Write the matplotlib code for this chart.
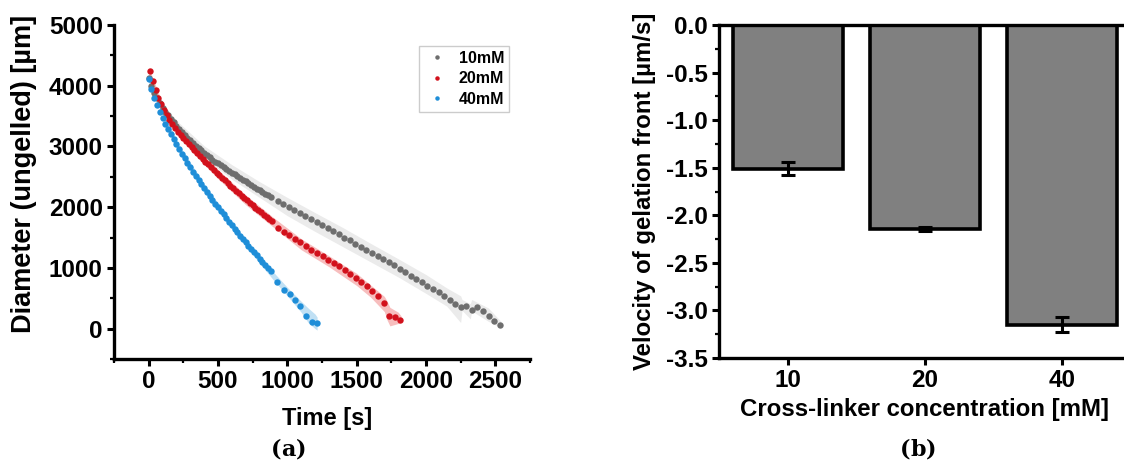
import matplotlib
matplotlib.use("Agg")
import matplotlib.pyplot as plt
from matplotlib.ticker import MultipleLocator

plt.rcParams['font.family'] = ['Liberation Sans', 'DejaVu Sans']
plt.rcParams['font.weight'] = 'bold'
plt.rcParams['axes.unicode_minus'] = False

# (a) diameter of ungelled core vs time, mean points + std band
t_10 = [0, 20, 40, 60, 80, 100, 120, 140, 160, 180, 200, 220, 240, 260, 280, 300, 320, 340, 360, 380,
        400, 420, 440, 460, 480, 500, 520, 540, 560, 580, 600, 620, 640, 660, 680, 700, 720, 740, 760, 780,
        800, 820, 840, 860, 880,
        931, 971, 1011, 1051, 1091, 1131, 1171, 1211, 1251, 1291, 1331, 1371, 1411, 1451, 1491, 1531,
        1571, 1611, 1651, 1691, 1731, 1771, 1811, 1851, 1891, 1931, 1971, 2011, 2051, 2091, 2131, 2171,
        2211, 2251, 2291, 2331, 2371, 2411, 2451, 2491, 2531]
d_10 = [4120, 3990, 3880, 3790, 3710, 3640, 3575, 3515, 3455, 3400, 3345, 3290, 3240, 3190, 3145, 3100,
        3055, 3015, 2975, 2935, 2895, 2855, 2820, 2785, 2750, 2720, 2690, 2660, 2630, 2600, 2570, 2540,
        2510, 2485, 2455, 2425, 2395, 2365, 2335, 2305, 2280, 2250, 2220, 2195, 2165,
        2100, 2052, 2000, 1953, 1900, 1852, 1800, 1748, 1702, 1650, 1600, 1553, 1500, 1452, 1400, 1350,
        1303, 1250, 1198, 1147, 1093, 1040, 983, 930, 873, 818, 765, 708, 653, 598, 540, 478,
        410, 352, 380, 308, 363, 297, 215, 132, 66]

t_20 = [10, 30, 50, 70, 90, 110, 130, 150, 170, 190, 210, 230, 250, 270, 290, 310, 330, 350, 370, 390,
        410, 430, 450, 470, 490, 510, 530, 550, 570, 590, 610, 630, 650, 670, 690, 710, 730, 750, 770, 790,
        810, 830, 850, 870, 890,
        934, 974, 1014, 1054, 1094, 1134, 1174, 1214, 1254, 1294, 1334, 1374, 1414, 1454, 1494, 1534,
        1574, 1614, 1654, 1694, 1734, 1774, 1814]
d_20 = [4250, 4070, 3930, 3805, 3700, 3605, 3515, 3440, 3370, 3305, 3245, 3190, 3135, 3085, 3035, 2985,
        2935, 2890, 2845, 2800, 2750, 2705, 2660, 2615, 2570, 2525, 2480, 2440, 2395, 2355, 2310, 2270,
        2230, 2190, 2150, 2110, 2070, 2030, 1990, 1950, 1915, 1875, 1840, 1800, 1765,
        1650, 1595, 1540, 1482, 1420, 1362, 1300, 1247, 1190, 1136, 1080, 1025, 965, 900, 835, 770,
        700, 625, 530, 430, 215, 187, 143]

t_40 = [0, 20, 40, 60, 80, 100, 120, 140, 160, 180, 200, 220, 240, 260, 280, 300, 320, 340, 360, 380,
        400, 420, 440, 460, 480, 500, 520, 540, 560, 580, 600, 620, 640, 660, 680, 700, 720, 740, 760, 780,
        800, 820, 840, 860, 880,
        925, 973, 1016, 1052, 1088, 1135, 1179, 1215]
d_40 = [4110, 3940, 3800, 3680, 3570, 3470, 3375, 3285, 3200, 3120, 3040, 2960, 2880, 2805, 2730, 2655,
        2585, 2515, 2445, 2380, 2315, 2250, 2185, 2120, 2060, 2000, 1940, 1880, 1820, 1760, 1700, 1640,
        1585, 1530, 1475, 1420, 1365, 1310, 1260, 1205, 1150, 1100, 1045, 995, 945,
        765, 638, 563, 473, 380, 215, 105, 88]

band_t_10 = [0, 100, 200, 400, 600, 800, 1000, 1200, 1400, 1600, 1800, 2000, 2150, 2250, 2260, 2320, 2330, 2450, 2540]
band_hi_10 = [4170, 3710, 3430, 3010, 2700, 2420, 2160, 1910, 1665, 1405, 1150, 890, 670, 540, 480, 410, 480, 340, 120]
band_lo_10 = [4070, 3580, 3270, 2810, 2460, 2160, 1860, 1600, 1350, 1100, 850, 580, 370, 100, 300, 160, 290, 120, 15]

band_t_20 = [0, 100, 300, 500, 700, 900, 1100, 1300, 1500, 1600, 1700, 1720, 1740, 1800, 1820]
band_hi_20 = [4300, 3710, 3080, 2620, 2200, 1830, 1480, 1200, 910, 720, 530, 450, 350, 270, 210]
band_lo_20 = [4190, 3590, 2940, 2470, 2040, 1670, 1300, 1020, 710, 520, 280, 140, 45, 85, 105]

band_t_40 = [0, 200, 400, 600, 800, 900, 1000, 1100, 1150, 1200, 1215]
band_hi_40 = [4160, 3100, 2380, 1760, 1200, 930, 680, 450, 340, 240, 190]
band_lo_40 = [4060, 2980, 2250, 1640, 1080, 800, 540, 270, 100, 0, -25]

# (b) velocity of gelation front
conc = ['10', '20', '40']
velocity = [-1.51, -2.14, -3.15]
vel_err = [0.07, 0.02, 0.08]

fig = plt.figure(figsize=(11.24, 4.70), dpi=100)
ax1 = fig.add_axes([0.1014, 0.2362, 0.3701, 0.7106])
ax2 = fig.add_axes([0.6397, 0.2383, 0.3665, 0.7085])

ax1.fill_between(band_t_10, band_lo_10, band_hi_10, color='#ebebeb', lw=0)
ax1.fill_between(band_t_20, band_lo_20, band_hi_20, color='#f6b3b3', lw=0, alpha=0.85)
ax1.fill_between(band_t_40, band_lo_40, band_hi_40, color='#b5dbf3', lw=0, alpha=0.85)
ax1.plot(t_10, d_10, 'o', ms=4.6, color='#6e6e6e', mec='none', label='10mM')
ax1.plot(t_20, d_20, 'o', ms=4.6, color='#d2111c', mec='none', label='20mM')
ax1.plot(t_40, d_40, 'o', ms=4.6, color='#1f8ed8', mec='none', label='40mM')

ax1.set_xlim(-250, 2750)
ax1.set_ylim(-500, 5000)
ax1.set_xticks([0, 500, 1000, 1500, 2000, 2500])
ax1.set_yticks([0, 1000, 2000, 3000, 4000, 5000])
ax1.xaxis.set_minor_locator(MultipleLocator(250))
ax1.yaxis.set_minor_locator(MultipleLocator(500))
ax1.spines['top'].set_visible(False)
ax1.spines['right'].set_visible(False)
ax1.set_xlabel('Time [s]', fontsize=17, fontweight='bold')
ax1.set_ylabel('Diameter (ungelled) [µm]', fontsize=19.5, fontweight='bold')
ax1.xaxis.set_label_coords(0.512, -0.145)
ax1.yaxis.set_label_coords(-0.185, 0.555)
leg = ax1.legend(loc='upper right', bbox_to_anchor=(0.95, 0.937), fontsize=11.5, markerscale=0.7,
                 frameon=True, fancybox=False, edgecolor='#c0c0c0', handletextpad=0.6,
                 borderpad=0.3, labelspacing=0.35, handlelength=1.6, borderaxespad=0)
leg.get_frame().set_linewidth(1.0)

x = list(range(len(conc)))
ax2.bar(x, velocity, width=0.8, color='#808080', edgecolor='black', linewidth=2.6, zorder=2)
ax2.errorbar(x, velocity, yerr=vel_err, fmt='none', ecolor='black', elinewidth=2.2,
             capsize=5, capthick=2.2, zorder=3)
ax2.set_xlim(-0.5, 2.5)
ax2.set_ylim(-3.5, 0)
ax2.set_xticks(x)
ax2.set_xticklabels(conc)
ax2.set_yticks([0, -0.5, -1.0, -1.5, -2.0, -2.5, -3.0, -3.5])
ax2.set_yticklabels(['0.0', '-0.5', '-1.0', '-1.5', '-2.0', '-2.5', '-3.0', '-3.5'])
ax2.yaxis.set_minor_locator(MultipleLocator(0.25))
ax2.set_xlabel('Cross-linker concentration [mM]', fontsize=17.3, fontweight='bold', labelpad=4)
ax2.set_ylabel('Velocity of gelation front [µm/s]', fontsize=17.3, fontweight='bold', labelpad=7)

for ax in (ax1, ax2):
    for s in ax.spines.values():
        s.set_linewidth(2.4)
    ax.tick_params(which='major', direction='out', length=5, width=2.2, labelsize=17.5, pad=3)
    ax.tick_params(which='minor', direction='out', length=3, width=1.6)
    for lab in ax.get_xticklabels() + ax.get_yticklabels():
        lab.set_fontweight('bold')

fig.text(0.25, 0.043, '(', family='DejaVu Serif', fontsize=16, ha='right', va='center')
fig.text(0.25, 0.043, 'a', family='DejaVu Serif', fontsize=16, fontweight='bold', ha='left', va='center')
fig.text(0.263, 0.043, ')', family='DejaVu Serif', fontsize=16, ha='left', va='center')
fig.text(0.81, 0.043, '(', family='DejaVu Serif', fontsize=16, ha='right', va='center')
fig.text(0.81, 0.043, 'b', family='DejaVu Serif', fontsize=16, fontweight='bold', ha='left', va='center')
fig.text(0.8235, 0.043, ')', family='DejaVu Serif', fontsize=16, ha='left', va='center')

fig.savefig('out.png', dpi=100)
